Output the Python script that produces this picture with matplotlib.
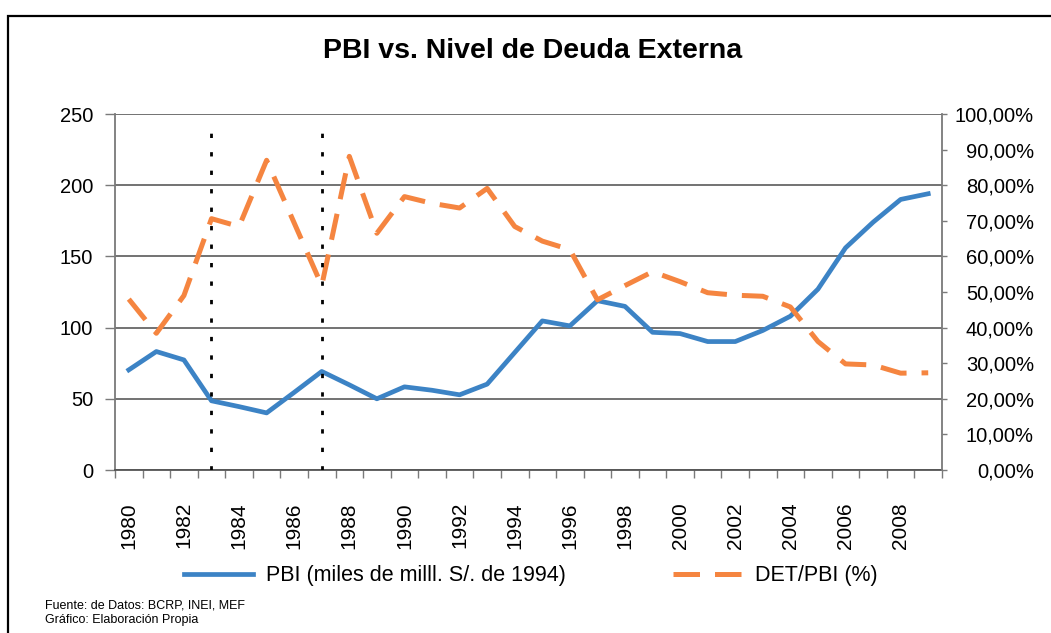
import numpy as np
import matplotlib
matplotlib.use("Agg")
import matplotlib.pyplot as plt
from matplotlib.patches import Rectangle
from matplotlib.lines import Line2D

plt.rcParams['font.family'] = ['Liberation Sans', 'DejaVu Sans']

# ---------------- data ----------------
years = list(range(1980, 2010))
pbi = [70.3, 83.2, 77.3, 48.6, 44.5, 40.1, 54.5, 69.2, 59.8, 50.0,
       58.4, 56.0, 52.8, 60.3, 82.5, 104.7, 101.2, 118.9, 114.9, 96.7,
       95.8, 90.2, 90.2, 98.0, 108.0, 127.0, 156.0, 174.0, 190.0, 194.0]
det_pbi = [48.0, 38.4, 49.0, 70.6, 68.4, 87.0, 69.4, 51.8, 88.1, 66.5,
           76.8, 74.9, 73.6, 79.1, 68.4, 64.3, 61.9, 47.8, 51.8, 55.7,
           52.9, 49.8, 49.1, 48.8, 45.8, 36.1, 29.8, 29.5, 27.2, 27.3]
marker_years = [1983, 1987]
left_ticks = [0, 50, 100, 150, 200, 250]
right_ticks = [0, 10, 20, 30, 40, 50, 60, 70, 80, 90, 100]
title = "PBI vs. Nivel de Deuda Externa"
label_pbi = "PBI (miles de milll. S/. de 1994)"
label_det = "DET/PBI (%)"
footer = ["Fuente: de Datos: BCRP, INEI, MEF", "Gráfico: Elaboración Propia"]

BLUE = '#3C83C5'
ORANGE = '#F58540'
GRID = '#5a5a5a'
AXC = '#7a7a7a'

W, H = 1051, 633
fig = plt.figure(figsize=(W / 100, H / 100), dpi=100)
L, R, T, B = 115, 942, 114, 470
ax = fig.add_axes([L / W, 1 - B / H, (R - L) / W, (B - T) / H])
ax2 = ax.twinx()

x = np.arange(len(years))
ax.plot(x, pbi, color=BLUE, lw=3.4, zorder=3)
ax2.plot(x, det_pbi, color=ORANGE, lw=3.6, dashes=(5.3, 3.0),
         dash_capstyle='butt', zorder=3)

# vertical dotted markers (drawn on top)
mx = [years.index(y) for y in marker_years]
ax2.vlines(mx, 0, 238 * 0.4, colors='black', lw=2.0,
           linestyles=[(0, (1.55, 5.1))], zorder=5)

# axes limits / ticks
ax.set_xlim(-0.5, len(years) - 0.5)
ax.set_ylim(0, 250)
ax2.set_ylim(0, 100)

ax.set_xticks(x[::2])
ax.set_xticklabels([str(y) for y in years[::2]], rotation=90)
ax.set_xticks(np.arange(-0.5, len(years), 1), minor=True)
ax.tick_params(axis='x', which='major', length=0, pad=24 * 0.72 + 5.8, labelsize=15)
ax.tick_params(axis='x', which='minor', length=5.8, width=1.0, color=AXC, direction='out')

ax.set_yticks(left_ticks)
ax.set_yticklabels([str(v) for v in left_ticks])
ax.tick_params(axis='y', length=7.2, width=1.0, color=AXC, pad=8.6, labelsize=14.5)

ax2.set_yticks(right_ticks)
ax2.set_yticklabels([f"{v:.2f}".replace('.', ',') + '%' for v in right_ticks], ha='right')
ax2.tick_params(axis='y', length=3.6, width=1.0, color=AXC, pad=62.6, labelsize=14.5)

ax.yaxis.grid(True, color=GRID, lw=1.2)
ax.set_axisbelow(True)

for a in (ax, ax2):
    a.spines['top'].set_visible(False)
ax2.spines['left'].set_visible(False)
ax2.spines['bottom'].set_visible(False)
ax.spines['right'].set_visible(False)
ax.spines['left'].set_color(AXC)
ax.spines['bottom'].set_color('#555555')
ax2.spines['right'].set_color(AXC)
for s in (ax.spines['left'], ax.spines['bottom'], ax2.spines['right']):
    s.set_linewidth(1.3)

# title
fig.text(533 / W, 1 - 51 / H, title, fontsize=20.5, fontweight='bold',
         ha='center', va='center')

# legend
handles = [Line2D([], [], color=BLUE, lw=3.4),
           Line2D([], [], color=ORANGE, lw=3.6, dashes=(5.3, 3.0), dash_capstyle='butt')]
fig.legend(handles, [label_pbi, label_det], loc='center',
           bbox_to_anchor=(531 / W, 1 - 576 / H), ncol=2, frameon=False,
           fontsize=15.5, handlelength=3.2, handletextpad=0.6, columnspacing=5.0)

# footer
fig.text(45 / W, 1 - 606 / H, footer[0], fontsize=9, va='center', ha='left')
fig.text(45 / W, 1 - 620 / H, footer[1], fontsize=9, va='center', ha='left')

# outer frame
fig.patches.append(Rectangle((8 / W, -0.1), 2.0, 1.1 - 16 / H, transform=fig.transFigure,
                             fill=False, edgecolor='black', lw=1.6, zorder=10))

fig.savefig('out.png', dpi=100)
